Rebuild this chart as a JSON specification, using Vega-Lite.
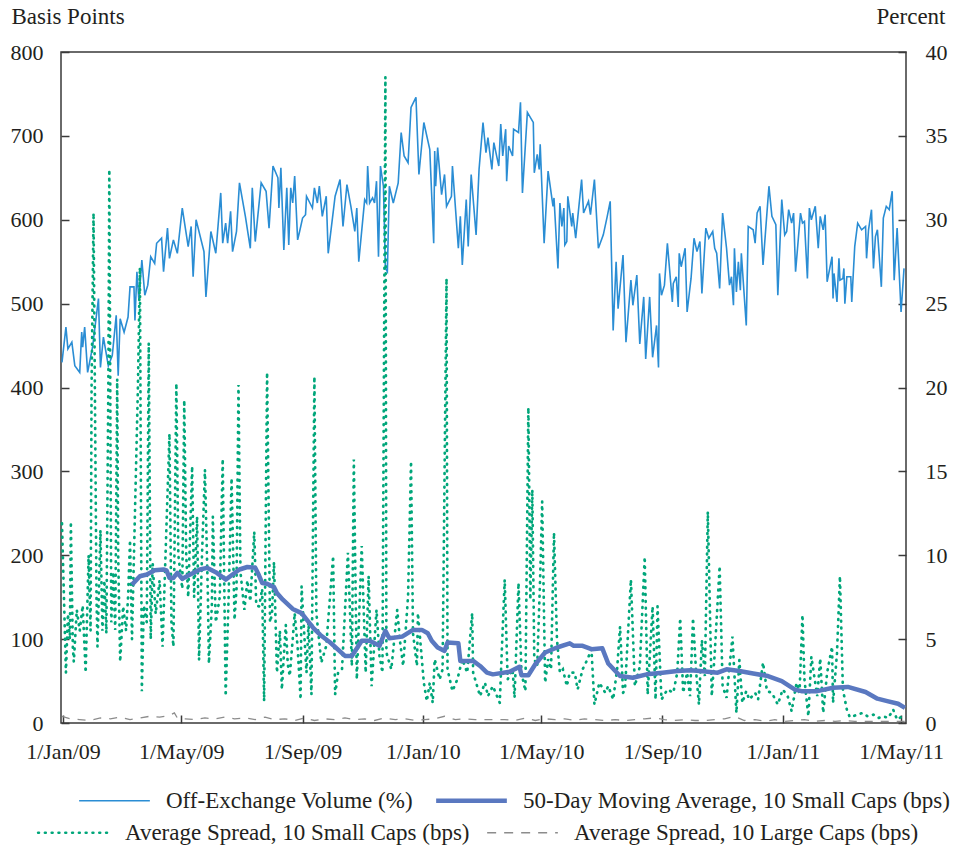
{
  "$schema": "https://vega.github.io/schema/vega-lite/v6.json",
  "autosize": {"type": "none"},
  "width": 845,
  "height": 671,
  "padding": {"left": 61, "top": 52, "right": 49, "bottom": 127},
  "datasets": {
    "offex": [
      {"d":"2008-12-31","v":21.5},{"d":"2009-01-04","v":23.6},{"d":"2009-01-06","v":22.3},{"d":"2009-01-10","v":22.7},{"d":"2009-01-13","v":21.3},{"d":"2009-01-18","v":20.9},{"d":"2009-01-20","v":23.3},{"d":"2009-01-21","v":22.4},{"d":"2009-01-23","v":23.6},{"d":"2009-01-26","v":20.9},{"d":"2009-01-31","v":22.4},
      {"d":"2009-02-06","v":25.3},{"d":"2009-02-08","v":21.2},{"d":"2009-02-11","v":23.0},{"d":"2009-02-16","v":21.3},{"d":"2009-02-20","v":21.9},{"d":"2009-02-24","v":24.3},{"d":"2009-02-26","v":20.7},{"d":"2009-02-28","v":24.1},
      {"d":"2009-03-04","v":23.3},{"d":"2009-03-08","v":24.2},{"d":"2009-03-10","v":26.0},{"d":"2009-03-14","v":26.0},{"d":"2009-03-15","v":24.0},{"d":"2009-03-17","v":26.9},{"d":"2009-03-19","v":25.2},{"d":"2009-03-22","v":27.6},{"d":"2009-03-25","v":25.5},{"d":"2009-03-28","v":26.1},{"d":"2009-03-31","v":27.8},
      {"d":"2009-04-04","v":27.4},{"d":"2009-04-06","v":28.6},{"d":"2009-04-11","v":28.9},{"d":"2009-04-13","v":26.9},{"d":"2009-04-17","v":29.5},{"d":"2009-04-19","v":27.7},{"d":"2009-04-23","v":28.8},{"d":"2009-04-27","v":28.0},
      {"d":"2009-05-02","v":30.7},{"d":"2009-05-08","v":28.4},{"d":"2009-05-11","v":29.6},{"d":"2009-05-13","v":26.6},{"d":"2009-05-16","v":30.0},{"d":"2009-05-24","v":28.1},{"d":"2009-05-26","v":25.4},{"d":"2009-05-31","v":29.3},
      {"d":"2009-06-05","v":28.0},{"d":"2009-06-10","v":31.6},{"d":"2009-06-12","v":28.6},{"d":"2009-06-15","v":29.8},{"d":"2009-06-17","v":28.6},{"d":"2009-06-20","v":30.5},{"d":"2009-06-22","v":28.1},{"d":"2009-06-26","v":29.3},{"d":"2009-06-29","v":32.2},
      {"d":"2009-07-05","v":30.2},{"d":"2009-07-10","v":28.3},{"d":"2009-07-12","v":31.9},{"d":"2009-07-15","v":28.7},{"d":"2009-07-21","v":32.2},{"d":"2009-07-26","v":31.7},{"d":"2009-07-29","v":29.5},
      {"d":"2009-08-02","v":33.2},{"d":"2009-08-07","v":32.5},{"d":"2009-08-08","v":30.7},{"d":"2009-08-10","v":33.1},{"d":"2009-08-13","v":28.2},{"d":"2009-08-16","v":31.9},{"d":"2009-08-18","v":28.5},{"d":"2009-08-20","v":31.9},{"d":"2009-08-22","v":31.0},{"d":"2009-08-24","v":32.6},{"d":"2009-08-27","v":28.8},{"d":"2009-08-29","v":29.3},
      {"d":"2009-09-01","v":30.1},{"d":"2009-09-04","v":30.3},{"d":"2009-09-05","v":31.4},{"d":"2009-09-11","v":30.7},{"d":"2009-09-13","v":31.9},{"d":"2009-09-16","v":31.0},{"d":"2009-09-18","v":32.0},{"d":"2009-09-21","v":30.2},{"d":"2009-09-25","v":31.4},{"d":"2009-09-27","v":28.0},
      {"d":"2009-10-04","v":31.4},{"d":"2009-10-09","v":32.4},{"d":"2009-10-12","v":29.6},{"d":"2009-10-16","v":32.1},{"d":"2009-10-20","v":30.8},{"d":"2009-10-24","v":29.3},{"d":"2009-10-26","v":30.7},{"d":"2009-10-28","v":27.5},
      {"d":"2009-11-03","v":31.2},{"d":"2009-11-05","v":31.0},{"d":"2009-11-06","v":33.2},{"d":"2009-11-08","v":31.0},{"d":"2009-11-11","v":31.3},{"d":"2009-11-13","v":31.0},{"d":"2009-11-15","v":32.3},{"d":"2009-11-17","v":27.8},{"d":"2009-11-19","v":33.2},{"d":"2009-11-22","v":32.0},{"d":"2009-11-24","v":27.1},{"d":"2009-11-26","v":26.9},{"d":"2009-11-28","v":32.0},
      {"d":"2009-12-02","v":31.0},{"d":"2009-12-07","v":32.2},{"d":"2009-12-10","v":35.2},{"d":"2009-12-13","v":33.8},{"d":"2009-12-17","v":33.4},{"d":"2009-12-20","v":36.7},{"d":"2009-12-25","v":37.3},{"d":"2009-12-28","v":32.7},
      {"d":"2010-01-02","v":35.8},{"d":"2010-01-08","v":34.2},{"d":"2010-01-12","v":28.6},{"d":"2010-01-13","v":34.1},{"d":"2010-01-14","v":32.0},{"d":"2010-01-16","v":34.3},{"d":"2010-01-20","v":31.5},{"d":"2010-01-23","v":32.7},{"d":"2010-01-25","v":30.8},{"d":"2010-01-30","v":31.4},{"d":"2010-01-31","v":33.2},
      {"d":"2010-02-06","v":28.3},{"d":"2010-02-08","v":30.2},{"d":"2010-02-10","v":27.3},{"d":"2010-02-14","v":31.2},{"d":"2010-02-16","v":28.4},{"d":"2010-02-19","v":32.7},{"d":"2010-02-24","v":29.1},{"d":"2010-02-27","v":33.0},
      {"d":"2010-03-03","v":35.8},{"d":"2010-03-06","v":34.0},{"d":"2010-03-08","v":34.9},{"d":"2010-03-12","v":33.0},{"d":"2010-03-14","v":34.6},{"d":"2010-03-19","v":33.2},{"d":"2010-03-21","v":35.7},{"d":"2010-03-23","v":33.8},{"d":"2010-03-26","v":35.4},{"d":"2010-03-27","v":32.3},{"d":"2010-03-29","v":34.4},
      {"d":"2010-04-02","v":33.8},{"d":"2010-04-03","v":35.4},{"d":"2010-04-08","v":35.2},{"d":"2010-04-10","v":37.0},{"d":"2010-04-12","v":31.6},{"d":"2010-04-17","v":36.4},{"d":"2010-04-23","v":35.8},{"d":"2010-04-24","v":32.8},{"d":"2010-04-27","v":33.9},{"d":"2010-04-29","v":33.0},{"d":"2010-04-30","v":34.5},
      {"d":"2010-05-04","v":28.6},{"d":"2010-05-08","v":32.9},{"d":"2010-05-13","v":30.8},{"d":"2010-05-14","v":31.3},{"d":"2010-05-18","v":27.1},{"d":"2010-05-20","v":31.0},{"d":"2010-05-22","v":29.6},{"d":"2010-05-24","v":30.7},{"d":"2010-05-25","v":28.5},{"d":"2010-05-27","v":28.7},{"d":"2010-05-28","v":31.4},
      {"d":"2010-06-01","v":29.6},{"d":"2010-06-02","v":30.4},{"d":"2010-06-05","v":28.9},{"d":"2010-06-11","v":32.4},{"d":"2010-06-13","v":30.4},{"d":"2010-06-18","v":31.1},{"d":"2010-06-20","v":30.3},{"d":"2010-06-24","v":32.4},{"d":"2010-06-28","v":28.3},
      {"d":"2010-07-03","v":29.1},{"d":"2010-07-07","v":30.2},{"d":"2010-07-10","v":31.1},{"d":"2010-07-13","v":23.4},{"d":"2010-07-16","v":27.5},{"d":"2010-07-18","v":24.7},{"d":"2010-07-23","v":27.9},{"d":"2010-07-26","v":22.7},{"d":"2010-07-31","v":26.4},
      {"d":"2010-08-02","v":24.9},{"d":"2010-08-06","v":26.7},{"d":"2010-08-09","v":22.6},{"d":"2010-08-13","v":25.4},{"d":"2010-08-15","v":21.7},{"d":"2010-08-19","v":25.4},{"d":"2010-08-22","v":21.8},{"d":"2010-08-26","v":23.7},{"d":"2010-08-28","v":21.2},{"d":"2010-08-29","v":26.8},{"d":"2010-08-31","v":25.5},
      {"d":"2010-09-03","v":26.1},{"d":"2010-09-06","v":28.6},{"d":"2010-09-11","v":25.1},{"d":"2010-09-12","v":26.2},{"d":"2010-09-15","v":26.6},{"d":"2010-09-17","v":24.8},{"d":"2010-09-18","v":28.0},{"d":"2010-09-20","v":27.2},{"d":"2010-09-24","v":28.3},{"d":"2010-09-26","v":24.5},{"d":"2010-09-30","v":26.5},
      {"d":"2010-10-03","v":28.9},{"d":"2010-10-06","v":28.1},{"d":"2010-10-09","v":28.7},{"d":"2010-10-11","v":25.6},{"d":"2010-10-15","v":29.5},{"d":"2010-10-18","v":28.9},{"d":"2010-10-22","v":29.3},{"d":"2010-10-24","v":28.3},{"d":"2010-10-26","v":28.0},{"d":"2010-10-29","v":25.9},
      {"d":"2010-11-01","v":30.4},{"d":"2010-11-05","v":28.3},{"d":"2010-11-08","v":26.1},{"d":"2010-11-10","v":26.6},{"d":"2010-11-12","v":24.9},{"d":"2010-11-13","v":28.3},{"d":"2010-11-15","v":25.7},{"d":"2010-11-17","v":27.5},{"d":"2010-11-19","v":25.8},{"d":"2010-11-20","v":28.0},{"d":"2010-11-25","v":23.7},{"d":"2010-11-27","v":29.6},
      {"d":"2010-12-02","v":29.4},{"d":"2010-12-04","v":28.6},{"d":"2010-12-06","v":30.4},{"d":"2010-12-09","v":30.8},{"d":"2010-12-12","v":27.3},{"d":"2010-12-18","v":32.0},{"d":"2010-12-21","v":30.2},{"d":"2010-12-25","v":29.7},{"d":"2010-12-27","v":25.5},{"d":"2010-12-31","v":31.2},
      {"d":"2011-01-03","v":29.1},{"d":"2011-01-05","v":29.3},{"d":"2011-01-07","v":30.6},{"d":"2011-01-10","v":29.8},{"d":"2011-01-12","v":30.4},{"d":"2011-01-14","v":26.9},{"d":"2011-01-19","v":30.4},{"d":"2011-01-21","v":29.8},{"d":"2011-01-23","v":29.9},{"d":"2011-01-26","v":26.5},{"d":"2011-01-28","v":30.7},{"d":"2011-01-30","v":30.0},
      {"d":"2011-02-03","v":30.8},{"d":"2011-02-06","v":28.3},{"d":"2011-02-08","v":30.2},{"d":"2011-02-11","v":29.4},{"d":"2011-02-13","v":30.3},{"d":"2011-02-15","v":26.3},{"d":"2011-02-20","v":27.8},{"d":"2011-02-21","v":25.3},{"d":"2011-02-22","v":26.8},{"d":"2011-02-25","v":25.1},{"d":"2011-02-27","v":27.7},{"d":"2011-02-28","v":26.4},
      {"d":"2011-03-03","v":26.5},{"d":"2011-03-04","v":27.1},{"d":"2011-03-05","v":25.0},{"d":"2011-03-07","v":26.6},{"d":"2011-03-11","v":26.6},{"d":"2011-03-12","v":25.1},{"d":"2011-03-15","v":28.4},{"d":"2011-03-18","v":29.8},{"d":"2011-03-22","v":29.4},{"d":"2011-03-26","v":29.6},{"d":"2011-03-27","v":27.7},{"d":"2011-03-29","v":29.4},
      {"d":"2011-04-01","v":30.6},{"d":"2011-04-03","v":27.1},{"d":"2011-04-05","v":29.0},{"d":"2011-04-07","v":29.4},{"d":"2011-04-11","v":26.0},{"d":"2011-04-13","v":30.1},{"d":"2011-04-16","v":30.8},{"d":"2011-04-19","v":30.6},{"d":"2011-04-22","v":31.7},{"d":"2011-04-24","v":26.4},{"d":"2011-04-27","v":29.5},{"d":"2011-05-01","v":24.5},{"d":"2011-05-04","v":27.1}
    ],
    "small": [
      {"d":"2008-12-31","v":238},{"d":"2009-01-02","v":150},{"d":"2009-01-04","v":60},{"d":"2009-01-06","v":130},{"d":"2009-01-08","v":100},{"d":"2009-01-09","v":240},{"d":"2009-01-11","v":90},{"d":"2009-01-12","v":73},{"d":"2009-01-15","v":135},{"d":"2009-01-18","v":110},{"d":"2009-01-21","v":140},{"d":"2009-01-24","v":60},{"d":"2009-01-27","v":200},{"d":"2009-01-29","v":110},{"d":"2009-01-30","v":400},
      {"d":"2009-02-01","v":608},{"d":"2009-02-04","v":150},{"d":"2009-02-05","v":91},{"d":"2009-02-08","v":230},{"d":"2009-02-10","v":110},{"d":"2009-02-12","v":170},{"d":"2009-02-14","v":107},{"d":"2009-02-16","v":400},{"d":"2009-02-17","v":660},{"d":"2009-02-19","v":120},{"d":"2009-02-21","v":180},{"d":"2009-02-23","v":111},{"d":"2009-02-25","v":410},{"d":"2009-02-26","v":200},{"d":"2009-02-28","v":73},
      {"d":"2009-03-03","v":139},{"d":"2009-03-06","v":110},{"d":"2009-03-08","v":150},{"d":"2009-03-10","v":218},{"d":"2009-03-12","v":100},{"d":"2009-03-15","v":250},{"d":"2009-03-18","v":400},{"d":"2009-03-20","v":543},{"d":"2009-03-22","v":38},{"d":"2009-03-24","v":140},{"d":"2009-03-27","v":120},{"d":"2009-03-29","v":453},{"d":"2009-03-31","v":100},
      {"d":"2009-04-02","v":190},{"d":"2009-04-05","v":130},{"d":"2009-04-09","v":170},{"d":"2009-04-12","v":91},{"d":"2009-04-15","v":200},{"d":"2009-04-19","v":345},{"d":"2009-04-21","v":120},{"d":"2009-04-23","v":91},{"d":"2009-04-26","v":405},{"d":"2009-04-28","v":200},
      {"d":"2009-05-02","v":160},{"d":"2009-05-04","v":385},{"d":"2009-05-06","v":200},{"d":"2009-05-08","v":150},{"d":"2009-05-12","v":306},{"d":"2009-05-14","v":150},{"d":"2009-05-17","v":246},{"d":"2009-05-19","v":75},{"d":"2009-05-22","v":200},{"d":"2009-05-25","v":302},{"d":"2009-05-28","v":150},{"d":"2009-05-29","v":71},
      {"d":"2009-06-01","v":140},{"d":"2009-06-02","v":246},{"d":"2009-06-05","v":120},{"d":"2009-06-09","v":150},{"d":"2009-06-12","v":315},{"d":"2009-06-15","v":32},{"d":"2009-06-18","v":150},{"d":"2009-06-21","v":292},{"d":"2009-06-24","v":123},{"d":"2009-06-26","v":160},{"d":"2009-06-28","v":403},{"d":"2009-06-30","v":180},
      {"d":"2009-07-04","v":135},{"d":"2009-07-07","v":170},{"d":"2009-07-10","v":145},{"d":"2009-07-14","v":228},{"d":"2009-07-16","v":140},{"d":"2009-07-19","v":139},{"d":"2009-07-22","v":160},{"d":"2009-07-24","v":26},{"d":"2009-07-27","v":418},{"d":"2009-07-30","v":120},
      {"d":"2009-08-01","v":130},{"d":"2009-08-03","v":192},{"d":"2009-08-06","v":60},{"d":"2009-08-09","v":110},{"d":"2009-08-11","v":40},{"d":"2009-08-13","v":80},{"d":"2009-08-15","v":117},{"d":"2009-08-17","v":70},{"d":"2009-08-19","v":56},{"d":"2009-08-22","v":100},{"d":"2009-08-24","v":131},{"d":"2009-08-27","v":90},{"d":"2009-08-30","v":28},{"d":"2009-08-31","v":163},
      {"d":"2009-09-03","v":100},{"d":"2009-09-05","v":60},{"d":"2009-09-07","v":120},{"d":"2009-09-10","v":34},{"d":"2009-09-13","v":413},{"d":"2009-09-15","v":131},{"d":"2009-09-20","v":72},{"d":"2009-09-25","v":92},
      {"d":"2009-10-02","v":199},{"d":"2009-10-04","v":34},{"d":"2009-10-07","v":60},{"d":"2009-10-11","v":64},{"d":"2009-10-17","v":203},{"d":"2009-10-21","v":68},{"d":"2009-10-23","v":314},{"d":"2009-10-26","v":52},{"d":"2009-10-31","v":211},
      {"d":"2009-11-04","v":60},{"d":"2009-11-07","v":175},{"d":"2009-11-10","v":44},{"d":"2009-11-15","v":135},{"d":"2009-11-18","v":80},{"d":"2009-11-21","v":60},{"d":"2009-11-24","v":770},{"d":"2009-11-25","v":84},{"d":"2009-11-30","v":64},
      {"d":"2009-12-06","v":135},{"d":"2009-12-09","v":96},{"d":"2009-12-12","v":68},{"d":"2009-12-17","v":151},{"d":"2009-12-20","v":312},{"d":"2009-12-22","v":107},{"d":"2009-12-26","v":68},{"d":"2009-12-27","v":131},
      {"d":"2010-01-02","v":48},{"d":"2010-01-05","v":26},{"d":"2010-01-08","v":48},{"d":"2010-01-11","v":24},{"d":"2010-01-13","v":76},{"d":"2010-01-18","v":52},{"d":"2010-01-21","v":64},{"d":"2010-01-25","v":530},{"d":"2010-01-26","v":64},{"d":"2010-01-31","v":38},
      {"d":"2010-02-05","v":52},{"d":"2010-02-10","v":76},{"d":"2010-02-15","v":60},{"d":"2010-02-20","v":131},{"d":"2010-02-21","v":60},{"d":"2010-02-25","v":44},{"d":"2010-02-28","v":32},
      {"d":"2010-03-05","v":48},{"d":"2010-03-08","v":32},{"d":"2010-03-13","v":44},{"d":"2010-03-20","v":24},{"d":"2010-03-22","v":84},{"d":"2010-03-25","v":171},{"d":"2010-03-28","v":52},
      {"d":"2010-04-02","v":64},{"d":"2010-04-04","v":30},{"d":"2010-04-08","v":167},{"d":"2010-04-11","v":60},{"d":"2010-04-15","v":38},{"d":"2010-04-18","v":376},{"d":"2010-04-20","v":147},{"d":"2010-04-22","v":278},{"d":"2010-04-24","v":76},{"d":"2010-04-27","v":68},{"d":"2010-04-30","v":175},
      {"d":"2010-05-02","v":264},{"d":"2010-05-05","v":48},{"d":"2010-05-08","v":76},{"d":"2010-05-11","v":64},{"d":"2010-05-14","v":227},{"d":"2010-05-17","v":100},{"d":"2010-05-20","v":60},{"d":"2010-05-23","v":64},{"d":"2010-05-27","v":44},{"d":"2010-05-30","v":60},
      {"d":"2010-06-04","v":60},{"d":"2010-06-07","v":40},{"d":"2010-06-12","v":64},{"d":"2010-06-17","v":76},{"d":"2010-06-21","v":88},{"d":"2010-06-24","v":22},{"d":"2010-06-29","v":48},
      {"d":"2010-07-05","v":36},{"d":"2010-07-08","v":44},{"d":"2010-07-13","v":28},{"d":"2010-07-17","v":64},{"d":"2010-07-20","v":115},{"d":"2010-07-23","v":36},{"d":"2010-07-25","v":40},{"d":"2010-07-31","v":171},
      {"d":"2010-08-04","v":44},{"d":"2010-08-09","v":67},{"d":"2010-08-14","v":198},{"d":"2010-08-17","v":34},{"d":"2010-08-22","v":139},{"d":"2010-08-25","v":28},{"d":"2010-08-27","v":139},{"d":"2010-08-31","v":28},
      {"d":"2010-09-06","v":40},{"d":"2010-09-12","v":36},{"d":"2010-09-16","v":60},{"d":"2010-09-19","v":125},{"d":"2010-09-22","v":36},{"d":"2010-09-26","v":60},{"d":"2010-09-29","v":32},
      {"d":"2010-10-02","v":125},{"d":"2010-10-05","v":63},{"d":"2010-10-08","v":22},{"d":"2010-10-11","v":99},{"d":"2010-10-14","v":56},{"d":"2010-10-17","v":252},{"d":"2010-10-21","v":32},{"d":"2010-10-24","v":83},{"d":"2010-10-29","v":187},
      {"d":"2010-11-01","v":44},{"d":"2010-11-05","v":30},{"d":"2010-11-08","v":67},{"d":"2010-11-11","v":103},{"d":"2010-11-15","v":12},{"d":"2010-11-18","v":75},{"d":"2010-11-21","v":24},{"d":"2010-11-25","v":38},{"d":"2010-11-28","v":28},
      {"d":"2010-12-04","v":36},{"d":"2010-12-07","v":28},{"d":"2010-12-12","v":72},{"d":"2010-12-16","v":38},{"d":"2010-12-21","v":36},{"d":"2010-12-27","v":22},
      {"d":"2011-01-01","v":40},{"d":"2011-01-06","v":32},{"d":"2011-01-10","v":14},{"d":"2011-01-15","v":48},{"d":"2011-01-18","v":36},{"d":"2011-01-21","v":129},{"d":"2011-01-23","v":52},{"d":"2011-01-27","v":8},{"d":"2011-01-30","v":79},
      {"d":"2011-02-05","v":32},{"d":"2011-02-08","v":77},{"d":"2011-02-11","v":12},{"d":"2011-02-15","v":60},{"d":"2011-02-20","v":91},{"d":"2011-02-21","v":24},{"d":"2011-02-25","v":83},{"d":"2011-02-28","v":175},
      {"d":"2011-03-03","v":40},{"d":"2011-03-07","v":16},{"d":"2011-03-10","v":7},{"d":"2011-03-13","v":8},{"d":"2011-03-18","v":10},{"d":"2011-03-23","v":12},{"d":"2011-03-28","v":8},
      {"d":"2011-04-03","v":10},{"d":"2011-04-08","v":6},{"d":"2011-04-13","v":8},{"d":"2011-04-18","v":6},{"d":"2011-04-23","v":16},{"d":"2011-04-27","v":4},{"d":"2011-05-02","v":8}
    ],
    "large": [
      {"d":"2008-12-31","v":8},{"d":"2009-01-08","v":5},{"d":"2009-01-18","v":4},{"d":"2009-01-28","v":3},{"d":"2009-02-08","v":6},{"d":"2009-02-18","v":5},{"d":"2009-02-28","v":7},{"d":"2009-03-10","v":4},{"d":"2009-03-20","v":6},{"d":"2009-03-30","v":8},
      {"d":"2009-04-09","v":7},{"d":"2009-04-19","v":9},{"d":"2009-04-24","v":12},{"d":"2009-04-27","v":6},{"d":"2009-05-05","v":5},{"d":"2009-05-15","v":4},{"d":"2009-05-25","v":6},{"d":"2009-06-04","v":5},{"d":"2009-06-14","v":7},{"d":"2009-06-24","v":5},
      {"d":"2009-07-05","v":6},{"d":"2009-07-15","v":4},{"d":"2009-07-25","v":7},{"d":"2009-08-04","v":4},{"d":"2009-08-14","v":5},{"d":"2009-08-24","v":3},{"d":"2009-09-03","v":6},{"d":"2009-09-13","v":3},{"d":"2009-09-23","v":5},{"d":"2009-10-04","v":4},
      {"d":"2009-10-14","v":6},{"d":"2009-10-24","v":4},{"d":"2009-11-03","v":5},{"d":"2009-11-13","v":3},{"d":"2009-11-23","v":6},{"d":"2009-12-04","v":4},{"d":"2009-12-14","v":5},{"d":"2009-12-24","v":3},{"d":"2010-01-03","v":4},{"d":"2010-01-13","v":5},
      {"d":"2010-01-23","v":8},{"d":"2010-02-03","v":4},{"d":"2010-02-13","v":5},{"d":"2010-02-23","v":4},{"d":"2010-03-05","v":4},{"d":"2010-03-15","v":4},{"d":"2010-03-25","v":4},{"d":"2010-04-04","v":3},{"d":"2010-04-15","v":6},{"d":"2010-04-25","v":3},
      {"d":"2010-05-05","v":5},{"d":"2010-05-15","v":4},{"d":"2010-05-25","v":5},{"d":"2010-06-04","v":3},{"d":"2010-06-14","v":5},{"d":"2010-06-24","v":4},{"d":"2010-07-05","v":3},{"d":"2010-07-15","v":4},{"d":"2010-07-25","v":3},{"d":"2010-08-04","v":4},
      {"d":"2010-08-14","v":5},{"d":"2010-08-24","v":6},{"d":"2010-09-03","v":4},{"d":"2010-09-13","v":3},{"d":"2010-09-24","v":4},{"d":"2010-10-04","v":3},{"d":"2010-10-14","v":3},{"d":"2010-10-24","v":4},{"d":"2010-11-03","v":5},{"d":"2010-11-13","v":8},
      {"d":"2010-11-23","v":3},{"d":"2010-12-04","v":4},{"d":"2010-12-14","v":2},{"d":"2010-12-24","v":4},{"d":"2011-01-03","v":2},{"d":"2011-01-13","v":3},{"d":"2011-01-23","v":4},{"d":"2011-02-03","v":2},{"d":"2011-02-13","v":3},{"d":"2011-02-23","v":2},
      {"d":"2011-03-05","v":3},{"d":"2011-03-15","v":2},{"d":"2011-03-26","v":2},{"d":"2011-04-05","v":2},{"d":"2011-04-15","v":2},{"d":"2011-04-25","v":2},{"d":"2011-05-05","v":2}
    ],
    "ma": [
      {"d":"2009-03-12","v":165},{"d":"2009-03-20","v":175},{"d":"2009-03-27","v":177},{"d":"2009-04-04","v":182},{"d":"2009-04-13","v":183},{"d":"2009-04-16","v":182},{"d":"2009-04-19","v":173},{"d":"2009-04-23","v":173},{"d":"2009-04-27","v":179},{"d":"2009-05-02","v":172},
      {"d":"2009-05-10","v":177},{"d":"2009-05-20","v":183},{"d":"2009-05-27","v":185},{"d":"2009-06-06","v":179},{"d":"2009-06-15","v":171},{"d":"2009-06-22","v":177},{"d":"2009-06-29","v":183},{"d":"2009-07-07","v":186},{"d":"2009-07-15","v":185},{"d":"2009-07-18","v":178},
      {"d":"2009-07-22","v":167},{"d":"2009-07-27","v":166},{"d":"2009-08-03","v":162},{"d":"2009-08-06","v":155},{"d":"2009-08-12","v":147},{"d":"2009-08-22","v":136},{"d":"2009-08-31","v":131},{"d":"2009-09-12","v":113},{"d":"2009-09-19","v":105},{"d":"2009-09-29","v":96},
      {"d":"2009-10-14","v":80},{"d":"2009-10-21","v":80},{"d":"2009-10-31","v":98},{"d":"2009-11-08","v":98},{"d":"2009-11-18","v":92},{"d":"2009-11-24","v":110},{"d":"2009-11-28","v":101},{"d":"2009-12-11","v":103},{"d":"2009-12-22","v":111},{"d":"2009-12-31","v":111},
      {"d":"2010-01-06","v":107},{"d":"2010-01-10","v":98},{"d":"2010-01-16","v":90},{"d":"2010-01-23","v":86},{"d":"2010-01-26","v":96},{"d":"2010-02-06","v":95},{"d":"2010-02-08","v":74},{"d":"2010-02-21","v":74},{"d":"2010-02-28","v":68},{"d":"2010-03-07","v":60},
      {"d":"2010-03-13","v":58},{"d":"2010-03-30","v":61},{"d":"2010-04-09","v":67},{"d":"2010-04-11","v":57},{"d":"2010-04-18","v":57},{"d":"2010-04-25","v":70},{"d":"2010-05-05","v":84},{"d":"2010-05-17","v":90},{"d":"2010-05-30","v":95},{"d":"2010-06-03","v":92},
      {"d":"2010-06-12","v":92},{"d":"2010-06-21","v":88},{"d":"2010-07-02","v":89},{"d":"2010-07-08","v":71},{"d":"2010-07-20","v":56},{"d":"2010-08-02","v":54},{"d":"2010-08-16","v":58},{"d":"2010-09-01","v":60},{"d":"2010-09-16","v":62},{"d":"2010-09-29","v":63},
      {"d":"2010-10-09","v":62},{"d":"2010-10-27","v":60},{"d":"2010-11-05","v":64},{"d":"2010-11-18","v":62},{"d":"2010-12-02","v":59},{"d":"2010-12-17","v":56},{"d":"2010-12-31","v":50},{"d":"2011-01-13","v":40},{"d":"2011-01-20","v":38},{"d":"2011-02-05","v":38},
      {"d":"2011-02-21","v":42},{"d":"2011-03-08","v":43},{"d":"2011-03-26","v":37},{"d":"2011-04-07","v":29},{"d":"2011-04-17","v":26},{"d":"2011-04-28","v":23},{"d":"2011-05-05","v":18}
    ]
  },
  "encoding": {
    "x": {
      "field": "d",
      "type": "temporal",
      "scale": {"domain": [{"year": 2008, "month": 12, "date": 30}, {"year": 2011, "month": 5, "date": 6}]},
      "axis": {
        "title": null,
        "format": "%-d/%b/%y",
        "values": [
          {"year": 2009, "month": 1, "date": 1}, {"year": 2009, "month": 5, "date": 1}, {"year": 2009, "month": 9, "date": 1},
          {"year": 2010, "month": 1, "date": 1}, {"year": 2010, "month": 5, "date": 1}, {"year": 2010, "month": 9, "date": 1},
          {"year": 2011, "month": 1, "date": 1}, {"year": 2011, "month": 5, "date": 1}
        ],
        "labelPadding": 26
      }
    }
  },
  "layer": [
    {
      "data": {"name": "offex"},
      "mark": {"type": "line", "strokeWidth": 1.6},
      "encoding": {
        "y": {
          "field": "v",
          "type": "quantitative",
          "scale": {"domain": [0, 40], "nice": false},
          "axis": {
            "orient": "right",
            "values": [0, 5, 10, 15, 20, 25, 30, 35, 40],
            "title": "Percent",
            "titleAngle": 0,
            "titleAlign": "right",
            "titleBaseline": "alphabetic",
            "titleX": 39,
            "titleY": -29,
            "labelPadding": 27
          }
        },
        "stroke": {
          "datum": "Off-Exchange Volume (%)",
          "type": "nominal",
          "scale": {
            "domain": ["Off-Exchange Volume (%)", "50-Day Moving Average, 10 Small Caps (bps)"],
            "range": ["#2a8dd4", "#5a78c0"]
          },
          "legend": {
            "orient": "none",
            "legendX": 42,
            "legendY": 737,
            "direction": "horizontal",
            "title": null,
            "encode": {
              "symbols": {"update": {"strokeWidth": {"signal": "datum.value === 'Off-Exchange Volume (%)' ? 1.6 : 4.5"}}}
            }
          }
        }
      }
    },
    {
      "encoding": {
        "y": {
          "field": "v",
          "type": "quantitative",
          "scale": {"domain": [0, 800], "nice": false},
          "axis": {
            "orient": "left",
            "values": [0, 100, 200, 300, 400, 500, 600, 700, 800],
            "title": "Basis Points",
            "titleAngle": 0,
            "titleAlign": "left",
            "titleBaseline": "alphabetic",
            "titleX": -50,
            "titleY": -29,
            "labelPadding": 26
          }
        }
      },
      "layer": [
        {
          "data": {"name": "small"},
          "mark": {"type": "line", "strokeWidth": 2.7, "strokeDash": [0.8, 6], "strokeCap": "round"},
          "encoding": {
            "color": {
              "datum": "Average Spread, 10 Small Caps (bps)",
              "type": "nominal",
              "scale": {
                "domain": ["Average Spread, 10 Small Caps (bps)", "Average Spread, 10 Large Caps (bps)"],
                "range": ["#00a67a", "#8c8c8c"]
              },
              "legend": {
                "orient": "none",
                "legendX": 1,
                "legendY": 769,
                "direction": "horizontal",
                "title": null,
                "encode": {
                  "symbols": {
                    "update": {
                      "strokeWidth": {"signal": "datum.value === 'Average Spread, 10 Large Caps (bps)' ? 1.3 : 2.7"},
                      "strokeDash": {"signal": "datum.value === 'Average Spread, 10 Large Caps (bps)' ? [9, 8] : [0.8, 6]"},
                      "strokeCap": {"signal": "datum.value === 'Average Spread, 10 Large Caps (bps)' ? 'butt' : 'round'"}
                    }
                  }
                }
              }
            }
          }
        },
        {
          "data": {"name": "large"},
          "mark": {"type": "line", "strokeWidth": 1.3, "strokeDash": [8, 8]},
          "encoding": {
            "color": {"datum": "Average Spread, 10 Large Caps (bps)", "type": "nominal"}
          }
        },
        {
          "data": {"name": "ma"},
          "mark": {"type": "line", "strokeWidth": 4.5, "strokeJoin": "round"},
          "encoding": {
            "stroke": {"datum": "50-Day Moving Average, 10 Small Caps (bps)", "type": "nominal"}
          }
        }
      ]
    }
  ],
  "resolve": {"scale": {"y": "independent"}},
  "config": {
    "view": {"stroke": "#3a3a3a", "strokeWidth": 1.5},
    "font": "Liberation Serif",
    "axis": {
      "labelFont": "Liberation Serif",
      "labelFontSize": 22,
      "labelColor": "#231f20",
      "titleFont": "Liberation Serif",
      "titleFontSize": 23,
      "titleFontWeight": "normal",
      "titleColor": "#231f20",
      "tickColor": "#3a3a3a",
      "tickSize": -8,
      "tickWidth": 1.5,
      "domain": false,
      "grid": false,
      "labelFlush": false,
      "labelOverlap": false,
      "labelBound": false
    },
    "legend": {
      "symbolType": "stroke",
      "symbolSize": 5000,
      "labelFont": "Liberation Serif",
      "labelFontSize": 23,
      "labelColor": "#231f20",
      "labelLimit": 600,
      "labelOffset": 40,
      "columnPadding": 14
    }
  }
}
